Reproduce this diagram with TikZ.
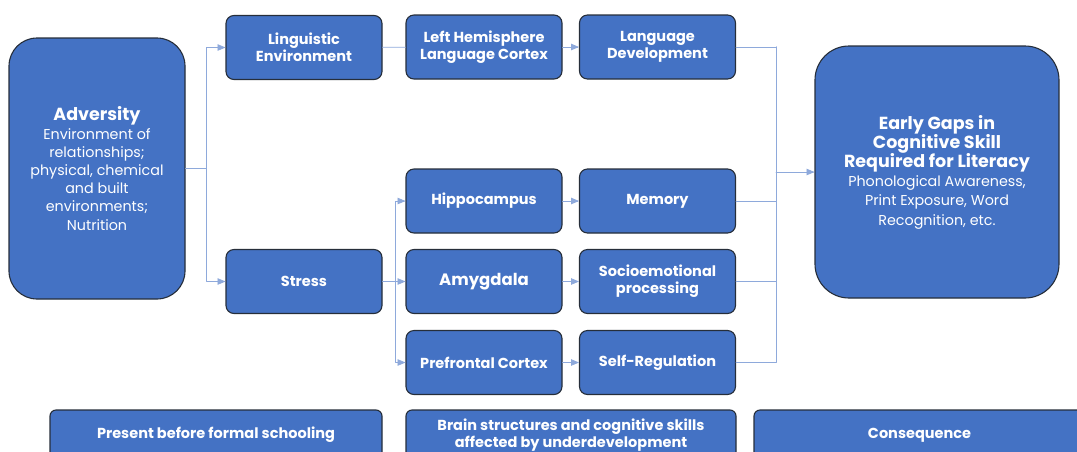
\documentclass[tikz,border=0pt]{standalone}
\usepackage{fontspec}
\setmainfont{Poppins}
\usetikzlibrary{arrows}
\definecolor{boxblue}{HTML}{4472C4}
\definecolor{boxline}{HTML}{262E3A}
\definecolor{linkblue}{HTML}{8EA9DB}
\tikzset{
  box/.style={draw=boxline,line width=1.1pt,fill=boxblue,text=white,rounded corners=8pt,
    align=center,inner sep=2pt,minimum width=156pt,minimum height=64pt,
    font=\bfseries\fontsize{14.5}{17}\selectfont},
  bigbox/.style={box,rounded corners=30pt},
  keybox/.style={box,rounded corners=6pt,minimum height=50pt},
  link/.style={draw=linkblue,line width=0.8pt},
}
\newcommand{\headtxt}{\bfseries\fontsize{17.5}{19.3}\selectfont}
\newcommand{\bodytxt}{\mdseries\fontsize{14.3}{18.3}\selectfont}
\begin{document}
\begin{tikzpicture}[line cap=round,line join=round,>=triangle 45,x=1.0pt,y=-1.0pt]

\useasboundingbox (0,0) rectangle (1077,451);
\clip (0,0) rectangle (1077,451);

% left column
\node[bigbox,minimum width=176pt,minimum height=261pt,rounded corners=28pt,
  font=\mdseries\fontsize{14.3}{18.2}\selectfont] (adv) at (97,168.5)
  {{\headtxt Adversity}\\Environment of\\relationships;\\physical, chemical\\and built\\environments;\\Nutrition};

\node[box] (ling) at (304,47.5) {Linguistic\\Environment};
\node[box] (stress) at (304,281.5) {Stress};

% brain structures
\node[box,font=\bfseries\fontsize{16.5}{18}\selectfont] (amyg) at (484,281.5) {Amygdala};
\node[box] (lhem) at (484,47) {Left Hemisphere\\Language Cortex};
\node[box] (hippo) at (484,201) {Hippocampus};
\node[box] (pfc) at (484,362.5) {Prefrontal Cortex};

% cognitive skills
\node[box] (langdev) at (657.5,47) {Language\\Development};
\node[box] (memory) at (657.5,201) {Memory};
\node[box] (socio) at (657.5,281.5) {Socioemotional\\processing};
\node[box] (selfreg) at (657.5,362.5) {Self-Regulation};

% consequence
\node[bigbox,minimum width=244pt,minimum height=252pt,rounded corners=34pt,
  font=\mdseries\fontsize{14.3}{19.2}\selectfont] (gaps) at (937,172)
  {{\headtxt Early Gaps in}\\{\headtxt Cognitive Skill}\\{\headtxt Required for Literacy}\\Phonological Awareness,\\Print Exposure, Word\\Recognition, etc.};

% key row
\node[keybox,minimum width=332pt] (keyA) at (216,435) {\raisebox{3pt}{Present before formal schooling}};
\node[keybox,minimum width=330pt] (keyB) at (571,435) {\raisebox{3pt}{\shortstack{Brain structures and cognitive skills\\[-1pt]affected by underdevelopment}}};
\node[keybox,minimum width=331pt] (keyC) at (919.5,435) {\raisebox{3pt}{Consequence}};

% connectors
\draw[link] (adv.east) -- ++(21,0) coordinate (advfork);
\draw[link,->] (advfork) |- (ling.west);
\draw[link,->] (advfork) |- (stress.west);
\draw[link] (ling) -- (lhem);
\draw[link,->] (lhem) -- (langdev);

\draw[link] (stress.east) -- ++(13,0) coordinate (stressfork);
\draw[link,->] (stressfork) |- (hippo.west);
\draw[link,->] (stressfork) -- (amyg.west);
\draw[link,->] (stressfork) |- (pfc.west);
\draw[link,->] (hippo) -- (memory);
\draw[link,->] (amyg) -- (socio);
\draw[link,->] (pfc) -- (selfreg);

\draw[link] (langdev.east) -- ++(40,0) coordinate (skillfork);
\draw[link] (skillfork) |- (selfreg.east);
\draw[link] (memory.east) -| (skillfork);
\draw[link] (socio.east) -| (skillfork);
\draw[link,->] (skillfork |- gaps.west) -- (gaps.west);
\end{tikzpicture}
\end{document}
